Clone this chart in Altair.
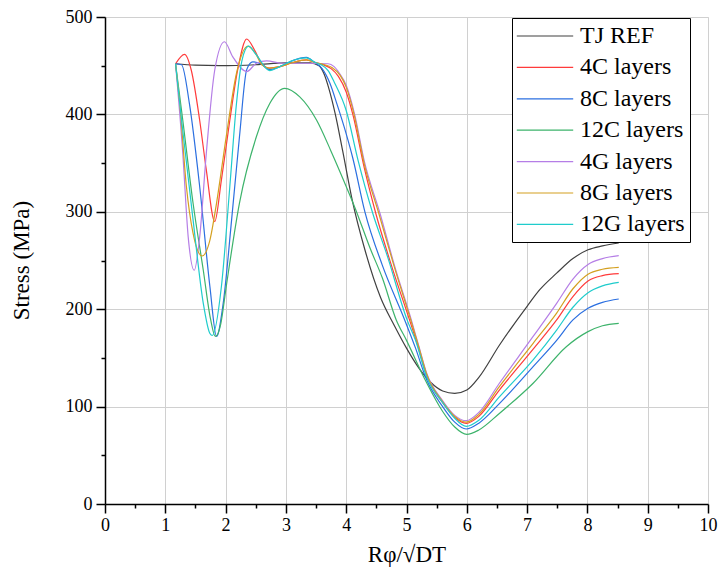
import altair as alt
import pandas as pd

series_names = ["TJ REF", "4C layers", "8C layers", "12C layers", "4G layers", "8G layers", "12G layers"]
series_colors = ["#404040", "#ff3b3b", "#2b6fe0", "#3db36b", "#b57ee6", "#d4a020", "#1fcccc"]

x_tj = [1.17, 1.5, 1.9, 2.5, 3.0, 3.4, 3.55, 3.63, 3.72, 3.82, 3.94, 4.1, 4.31, 4.57, 4.8, 5.0, 5.2, 5.4, 5.6, 5.8, 6.0, 6.2, 6.54, 7.0, 7.21, 7.49, 7.76, 8.01, 8.25, 8.52]
y_tj = [452, 450.5, 450, 451, 453, 453, 450, 442, 425, 400, 363, 312, 261, 212, 183, 160, 140, 125, 116, 113.5, 117, 130, 163, 203, 220, 237, 252, 261, 265, 268]

x_4c = [1.17, 1.32, 1.43, 1.57, 1.68, 1.82, 1.93, 2.07, 2.2, 2.35, 2.48, 2.6, 2.73, 2.9, 3.1, 3.34, 3.5, 3.62, 3.75, 3.87, 4.0, 4.11, 4.3, 4.49, 4.75, 5.05, 5.2, 5.33, 5.6, 5.8, 5.99, 6.2, 6.54, 7.1, 7.49, 7.76, 8.01, 8.25, 8.52]
y_4c = [452, 461.7, 445.6, 394, 343, 290, 332.6, 394, 445.6, 477.4, 466, 452, 447.5, 449, 453, 456, 453, 451, 447, 439, 423, 400, 345, 298.5, 245, 189, 160, 133, 104, 89, 82.8, 90, 117, 159, 189, 213, 229, 234.5, 236.5]

x_8c = [1.17, 1.27, 1.4, 1.57, 1.74, 1.85, 1.96, 2.1, 2.23, 2.35, 2.45, 2.58, 2.73, 2.9, 3.1, 3.34, 3.48, 3.6, 3.73, 3.85, 4.0, 4.11, 4.31, 4.6, 4.97, 5.15, 5.33, 5.6, 5.8, 5.99, 6.2, 6.54, 7.1, 7.49, 7.76, 8.01, 8.25, 8.52]
y_8c = [452, 451, 411, 326, 223, 172, 206, 292, 377, 446, 454, 452, 446, 449, 455, 458.5, 453, 447, 432, 410, 380, 355, 300, 245, 189, 160, 128, 100, 84, 77, 83, 103, 141, 168, 189, 201, 207, 210.5]

x_12c = [1.17, 1.29, 1.46, 1.63, 1.75, 1.83, 1.92, 2.01, 2.23, 2.51, 2.73, 2.98, 3.23, 3.51, 3.75, 4.0, 4.14, 4.4, 4.6, 4.83, 5.0, 5.33, 5.6, 5.8, 6.0, 6.2, 6.54, 7.1, 7.65, 8.01, 8.25, 8.52]
y_12c = [452, 394, 309, 240, 190, 172, 185, 223, 309, 377, 411, 426.8, 418, 394, 362, 326, 305, 262, 232, 189, 168, 125, 95, 79, 71.5, 76, 93, 124, 161.5, 177, 183, 185.5]

x_4g = [1.17, 1.29, 1.38, 1.48, 1.57, 1.68, 1.82, 1.98, 2.12, 2.35, 2.51, 2.68, 2.95, 3.3, 3.7, 3.8, 3.89, 4.0, 4.14, 4.3, 4.56, 4.8, 5.08, 5.2, 5.33, 5.6, 5.8, 5.99, 6.2, 6.54, 7.1, 7.49, 7.76, 8.01, 8.25, 8.52]
y_4g = [452, 360, 274, 240, 274, 360, 445.6, 474.6, 459, 444, 452.5, 455, 452.5, 452.5, 452, 449, 442, 430, 400, 352, 298.5, 245, 189, 163, 135, 106, 91, 85.5, 94, 124, 172, 206, 231, 246, 252, 255]

x_8g = [1.17, 1.24, 1.35, 1.46, 1.61, 1.74, 1.85, 2.01, 2.18, 2.37, 2.5, 2.6, 2.73, 2.9, 3.1, 3.34, 3.5, 3.64, 3.77, 3.9, 4.0, 4.13, 4.3, 4.54, 4.79, 5.07, 5.2, 5.33, 5.6, 5.8, 5.99, 6.2, 6.54, 7.1, 7.49, 7.76, 8.01, 8.25, 8.52]
y_8g = [452, 411, 326, 278, 254.6, 271, 309, 377, 442, 470, 462, 451, 447.5, 449, 453, 456, 453, 451, 448, 440, 428, 400, 349, 298.5, 245, 189, 162, 134, 105, 90, 84, 92, 120.5, 165, 196, 221, 236, 241, 243]

x_12g = [1.17, 1.27, 1.46, 1.63, 1.74, 1.78, 1.93, 2.07, 2.18, 2.27, 2.38, 2.5, 2.73, 2.9, 3.1, 3.34, 3.5, 3.58, 3.7, 3.81, 4.0, 4.2, 4.44, 4.68, 5.01, 5.15, 5.33, 5.6, 5.8, 5.99, 6.2, 6.54, 7.1, 7.49, 7.76, 8.01, 8.25, 8.52]
y_12g = [452, 394, 292, 206, 175, 173, 223, 326, 411, 455, 470, 462, 445, 449, 455, 458, 453, 451, 445, 432, 404, 352, 298.5, 255, 189, 168, 131, 104, 88, 79.7, 86, 110, 148, 178.6, 202, 217, 224, 227.6]

x_tick_values = [i * 0.5 for i in range(21)]
y_tick_values = list(range(0, 501, 50))

all_x = [x_tj, x_4c, x_8c, x_12c, x_4g, x_8g, x_12g]
all_y = [y_tj, y_4c, y_8c, y_12c, y_4g, y_8g, y_12g]

rows = []
for name, xs, ys in zip(series_names, all_x, all_y):
    for a, b in zip(xs, ys):
        rows.append({"series": name, "x": a, "y": b})
df = pd.DataFrame(rows)

FONT = "Liberation Serif"

x_axis = alt.Axis(
    values=x_tick_values,
    title="Rφ/√DT",
    labelExpr="datum.value % 1 === 0 ? format(datum.value, 'd') : ''",
    labelFlush=False,
    labelOverlap=False,
    labelFont=FONT, labelFontSize=18, labelColor="black", labelPadding=3,
    titleFont=FONT, titleFontSize=23, titleFontWeight="normal", titleColor="black",
    titleY=39, titleBaseline="top",
    domainColor="black", domainWidth=1.5,
    tickColor="black", tickWidth=1.5,
    tickSize={"condition": {"test": "datum.value % 1 === 0", "value": 9}, "value": 4},
    grid=True, gridColor="#d0d0d0", gridWidth=1,
    gridOpacity={"condition": {"test": "datum.value % 1 === 0", "value": 1}, "value": 0},
)

y_axis = alt.Axis(
    values=y_tick_values,
    title="Stress (MPa)",
    labelExpr="datum.value % 100 === 0 ? format(datum.value, 'd') : ''",
    labelOverlap=False,
    labelFont=FONT, labelFontSize=18, labelColor="black", labelPadding=4,
    titleFont=FONT, titleFontSize=23, titleFontWeight="normal", titleColor="black",
    titleX=-72, titleY=243,
    domainColor="black", domainWidth=1.5,
    tickColor="black", tickWidth=1.5,
    tickSize={"condition": {"test": "datum.value % 100 === 0", "value": 9}, "value": 4},
    grid=True, gridColor="#d0d0d0", gridWidth=1,
    gridOpacity={"condition": {"test": "datum.value % 100 === 0", "value": 1}, "value": 0},
)

legend = alt.Legend(
    title=None, orient="none", legendX=407, legendY=1,
    strokeColor="black", fillColor="white", padding=5,
    labelFont=FONT, labelFontSize=24, labelColor="black", labelLimit=400,
    symbolType="M -1.1 0 H 3.6", symbolSize=576, symbolStrokeWidth=1.2,
    labelOffset=37, rowPadding=6.4,
)

chart = alt.Chart(df).mark_line(interpolate="monotone", strokeWidth=1.2).encode(
    x=alt.X("x:Q", scale=alt.Scale(domain=[0, 10], nice=False, zero=False), axis=x_axis),
    y=alt.Y("y:Q", scale=alt.Scale(domain=[0, 500], nice=False), axis=y_axis),
    color=alt.Color("series:N", scale=alt.Scale(domain=series_names, range=series_colors), legend=legend),
).properties(
    width=603, height=487,
    autosize=alt.AutoSizeParams(type="none"),
    padding={"left": 105, "top": 17, "right": 11, "bottom": 78},
).configure_view(stroke=None).configure(background="white")

chart.save("out.html", embed_options={"renderer": "svg", "actions": False})
